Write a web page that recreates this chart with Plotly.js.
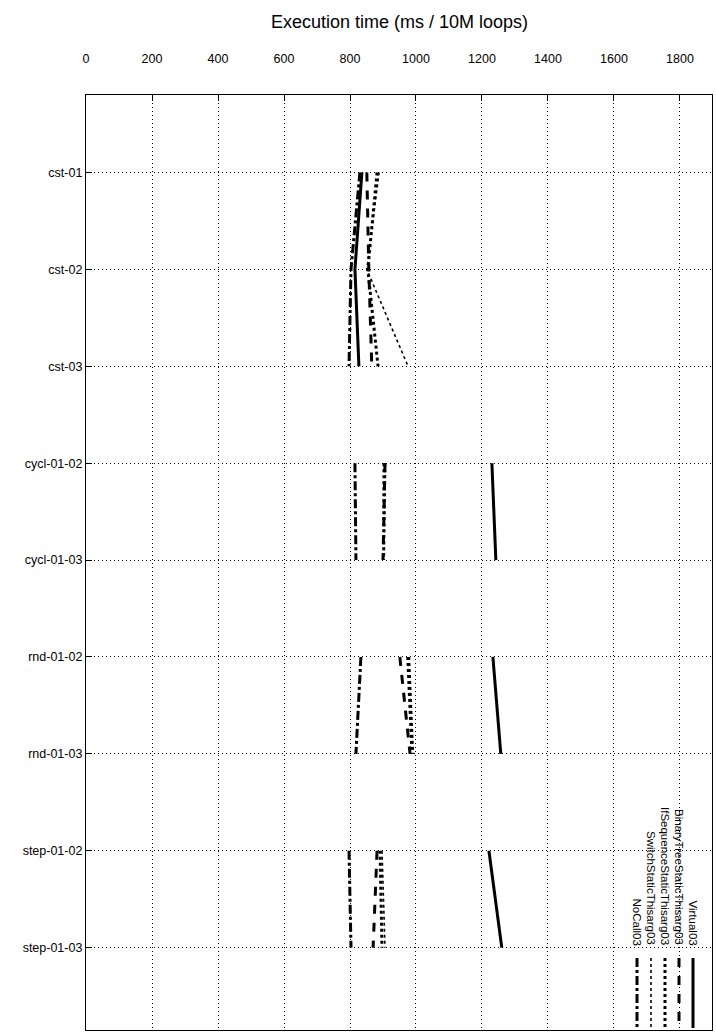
<!DOCTYPE html>
<html>
<head>
<script src="https://cdn.plot.ly/plotly-3.0.1.min.js"></script>
<style>body{margin:0;background:#fff}</style>
</head>
<body>
<div id="chart" style="width:716px;height:1034px"></div>
<script>
// categories, grouped: lines only connect inside a group
var categories = ["cst-01", "cst-02", "cst-03", "cycl-01-02", "cycl-01-03", "rnd-01-02", "rnd-01-03", "step-01-02", "step-01-03"];
var groups = [[0, 1, 2], [3, 4], [5, 6], [7, 8]];

var virtual03 = [836, 815, 827, 1230, 1242, 1233, 1257, 1221, 1260];
var binaryTree03 = [851, 857, 866, 906, 900, 951, 982, 882, 870];
var ifSequence03 = [882, 854, 885, 903, 902, 975, 988, 891, 897];
var switch03 = [888, 851, 976, 908, 903, 980, 992, 897, 906];
var noCall03 = [830, 803, 797, 815, 818, 833, 818, 797, 803];

var seriesNames = ["Virtual03", "BinaryTreeStaticThisarg03", "IfSequenceStaticThisarg03", "SwitchStaticThisarg03", "NoCall03"];
var seriesData = [virtual03, binaryTree03, ifSequence03, switch03, noCall03];
var dashes = ["solid", "dash", "dot", "dot", "dashdot"];
var widths = [3, 3, 3, 1.6, 3];

function buildXY(vals) {
  var xs = [], ys = [];
  groups.forEach(function (g) {
    g.forEach(function (i) { xs.push(vals[i]); ys.push(i); });
    xs.push(null); ys.push(null);
  });
  return {x: xs, y: ys};
}

var data = seriesData.map(function (vals, k) {
  var xy = buildXY(vals);
  return {
    x: xy.x, y: xy.y, mode: 'lines', name: seriesNames[k],
    connectgaps: false,
    line: {color: 'black', width: widths[k], dash: dashes[k]}
  };
});

// rotated legend, drawn by hand
var annotations = [{
  text: "Execution time (ms / 10M loops)", xref: 'paper', yref: 'paper',
  x: 0.5, y: 1, yshift: 85, showarrow: false, font: {size: 18}
}];
var shapes = [];
var legX = [693, 679, 665, 651, 637];
seriesNames.forEach(function (n, k) {
  var xp = (legX[k] - 86) / 626;
  annotations.push({
    text: n, textangle: 90, xref: 'paper', yref: 'paper',
    x: xp, y: (1030 - 946) / 935, xanchor: 'center', yanchor: 'bottom',
    showarrow: false, font: {size: 11.5}, borderpad: 0
  });
  shapes.push({
    type: 'line', xref: 'paper', yref: 'paper',
    x0: xp, x1: xp, y0: (1030 - 958) / 935, y1: (1030 - 1028) / 935,
    line: {color: 'black', width: widths[k], dash: dashes[k]}
  });
});

var gridStyle = {
  showgrid: true, gridcolor: 'black', griddash: '1px,3px', gridwidth: 0.8,
  zeroline: false, showline: true, linecolor: 'black', linewidth: 1.2, mirror: true,
  ticks: 'inside', ticklen: 6, tickcolor: 'black', tickfont: {size: 12.5}
};

var layout = {
  width: 716, height: 1034,
  margin: {l: 86, r: 4, t: 95, b: 4},
  font: {family: 'Liberation Sans, Arial, sans-serif', size: 12, color: 'black'},
  showlegend: false,
  plot_bgcolor: 'white', paper_bgcolor: 'white',
  xaxis: Object.assign({
    side: 'top', range: [0, 1897], tickvals: [0, 200, 400, 600, 800, 1000, 1200, 1400, 1600, 1800],
    ticklabelstandoff: 26
  }, gridStyle),
  yaxis: Object.assign({
    range: [8.85, -0.8], tickvals: categories.map(function (c, i) { return i; }), ticktext: categories
  }, gridStyle),
  annotations: annotations,
  shapes: shapes
};

Plotly.newPlot('chart', data, layout, {displayModeBar: false});
</script>
</body>
</html>
